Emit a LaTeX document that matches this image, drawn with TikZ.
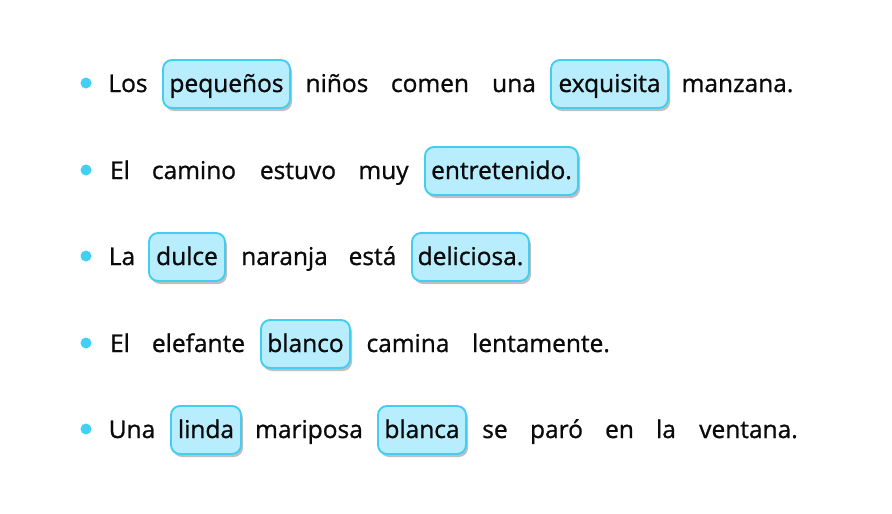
\documentclass[tikz,border=0pt]{standalone}
\usepackage{fontspec}
\setmainfont{Open Sans}[FakeBold=1]
\usepackage{tikz}
\usetikzlibrary{shadows}

\definecolor{dotblue}{RGB}{64,208,244}
\definecolor{boxline}{RGB}{66,206,240}
\definecolor{boxfill}{RGB}{184,237,253}
\definecolor{ink}{RGB}{10,10,10}

\begin{document}
\begin{tikzpicture}[x=1pt, y=-1pt,
		word/.style={anchor=base, inner sep=0pt, text height=20pt, text depth=4pt, text=ink, font=\fontsize{24.5}{28}\selectfont},
		adj/.style={word, draw=boxline, fill=boxfill, line width=1.9pt, rounded corners=9pt, minimum height=48pt,
			drop shadow={shadow xshift=2pt, shadow yshift=-3pt, opacity=0.5}},
		dot/.style={circle, fill=dotblue, inner sep=0pt, minimum size=11pt}]
		\useasboundingbox (0, 0) rectangle (892, 514);
		% sentence 1
		\node[dot] (b1) at (86, 83) {};
		\node[word] (los) at (128, 92) {Los};
		\node[adj, minimum width=127pt] (pequenos) at (226.5, 92) {pequeños};
		\node[word] (ninos) at (337, 92) {niños};
		\node[word] (comen) at (430, 92) {comen};
		\node[word] (una1) at (514, 92) {una};
		\node[adj, minimum width=117pt] (exquisita) at (609.5, 92) {exquisita};
		\node[word] (manzana) at (737.5, 92) {manzana.};
		% sentence 2
		\node[dot] (b2) at (86, 170) {};
		\node[word] (el1) at (120, 179) {El};
		\node[word] (camino) at (194, 179) {camino};
		\node[word] (estuvo) at (298, 179) {estuvo};
		\node[word] (muy) at (383.5, 179) {muy};
		\node[adj, minimum width=153pt] (entretenido) at (501.5, 179) {entretenido.};
		% sentence 3
		\node[dot] (b3) at (86, 256) {};
		\node[word] (la1) at (122, 265) {La};
		\node[adj, minimum width=76pt] (dulce) at (187, 265) {dulce};
		\node[word] (naranja) at (284.5, 265) {naranja};
		\node[word] (esta) at (372.5, 265) {está};
		\node[adj, minimum width=117pt] (deliciosa) at (470.5, 265) {deliciosa.};
		% sentence 4
		\node[dot] (b4) at (86, 343) {};
		\node[word] (el2) at (120, 352) {El};
		\node[word] (elefante) at (198.5, 352) {elefante};
		\node[adj, minimum width=89pt] (blanco) at (305.5, 352) {blanco};
		\node[word] (camina) at (408, 352) {camina};
		\node[word] (lentamente) at (541, 352) {lentamente.};
		% sentence 5
		\node[dot] (b5) at (86, 429) {};
		\node[word] (una2) at (132, 438) {Una};
		\node[adj, minimum width=70pt] (linda) at (206, 438) {linda};
		\node[word] (mariposa) at (309, 438) {mariposa};
		\node[adj, minimum width=88pt] (blanca) at (422, 438) {blanca};
		\node[word] (se) at (495, 438) {se};
		\node[word] (paro) at (556.5, 438) {paró};
		\node[word] (en) at (619.5, 438) {en};
		\node[word] (la2) at (666, 438) {la};
		\node[word] (ventana) at (748.5, 438) {ventana.};
	\end{tikzpicture}
\end{document}
